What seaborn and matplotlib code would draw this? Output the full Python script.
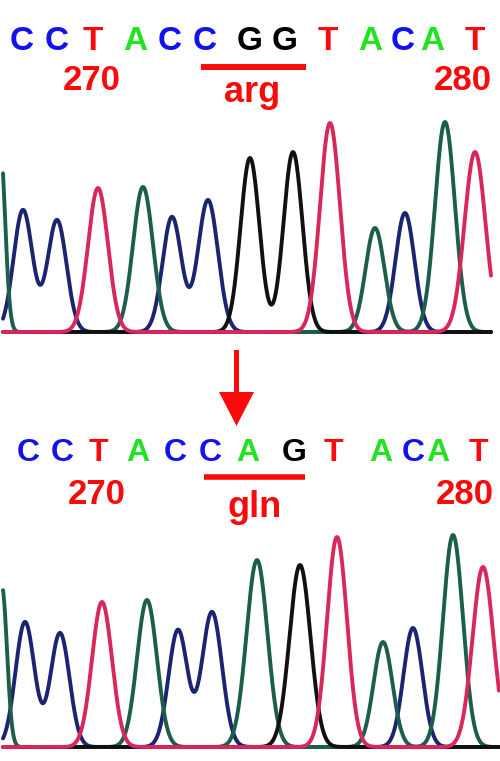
import numpy as np
import pandas as pd
import matplotlib
matplotlib.use("Agg")
import matplotlib.pyplot as plt
import seaborn as sns

# base calls printed above each trace
top_bases = list("CCTACCGGTACAT")
bottom_bases = list("CCTACCAGTACAT")
top_codon = "arg"
bottom_codon = "gln"
position_labels = ["270", "280"]

# chromatogram peaks (scan position, signal height, peak width)
top_peak_base = ["A", "C", "C", "T", "A", "C", "C", "G", "G", "T", "A", "C", "A", "T"]
top_peak_pos = [0, 23, 57, 98, 143, 172, 208, 250, 293, 330, 375, 405, 445, 475]
top_peak_height = [190, 122, 112, 144, 145, 115, 132, 174, 180, 209, 104, 119, 210, 180]
top_peak_sigma = [5, 9.5, 9.5, 10, 10, 9.5, 10, 9.5, 9.5, 10, 9.5, 9.5, 10, 10.5]

bottom_peak_base = ["A", "C", "C", "T", "A", "C", "C", "A", "G", "T", "A", "C", "A", "T"]
bottom_peak_pos = [2, 25, 60, 102, 147, 178, 212, 257, 300, 337, 383, 413, 453, 483]
bottom_peak_height = [160, 125, 114, 145, 147, 117, 135, 187, 182, 210, 105, 119, 212, 180]
bottom_peak_sigma = [5, 9.5, 9.5, 10, 10, 9.5, 10, 10.5, 10.5, 10, 9.5, 9.5, 10, 10.5]

trace_colors = {"C": "#1a2470", "A": "#1b5e4a", "G": "#111111", "T": "#d8285a"}
letter_colors = {"C": "#1212ee", "A": "#22e222", "G": "#000000", "T": "#fa0a0a"}
red = "#fa0a0a"

# layout (figure pixels)
top_letter_x = [22, 57, 93, 135, 170, 205, 250, 285, 328, 370, 403, 432, 475]
bottom_letter_x = [28, 62, 98, 138, 175, 210, 248, 294, 333, 381, 413, 438, 478]


def trace_frame(bases, pos, height, sigma, x_end):
    scan = np.linspace(3, x_end, 1200)
    rows = []
    for ch in ["C", "A", "G", "T"]:
        sig = np.zeros_like(scan)
        for b, p, h, s in zip(bases, pos, height, sigma):
            if b == ch:
                sig += h * np.exp(-0.5 * ((scan - p) / s) ** 2)
        rows.append(pd.DataFrame({"scan": scan, "signal": sig, "base": ch}))
    return pd.concat(rows, ignore_index=True)


sns.set_theme(style="white")
plt.rcParams["font.family"] = ["Liberation Sans", "DejaVu Sans"]

fig = plt.figure(figsize=(5, 7.61), dpi=100)
H = 761.0

top_df = trace_frame(top_peak_base, top_peak_pos, top_peak_height, top_peak_sigma, 491)
bot_df = trace_frame(bottom_peak_base, bottom_peak_pos, bottom_peak_height, bottom_peak_sigma, 499)

for df, base_px in [(top_df, 332), (bot_df, 747)]:
    ax = fig.add_axes([0, (H - base_px - 4) / H, 1, 220 / H])
    sns.lineplot(data=df, x="scan", y="signal", hue="base", hue_order=["C", "A", "G", "T"],
                 palette=trace_colors, estimator=None, sort=False, legend=False,
                 linewidth=2.8, ax=ax)
    ax.set_xlim(0, 500)
    ax.set_ylim(-4, 216)
    ax.axis("off")

# overlay in pixel coordinates for the labels
ov = fig.add_axes([0, 0, 1, 1])
ov.set_xlim(0, 500)
ov.set_ylim(H, 0)
ov.axis("off")
ov.patch.set_alpha(0)

for bases, xs, y, fs in [(top_bases, top_letter_x, 41, 24), (bottom_bases, bottom_letter_x, 453, 23)]:
    for b, x in zip(bases, xs):
        ov.text(x, y, b, color=letter_colors[b], fontsize=fs, fontweight="bold",
                ha="center", va="center")

for y, xs in [(81, (92, 463)), (494, (97, 465))]:
    for lab, x in zip(position_labels, xs):
        ov.text(x, y, lab, color=red, fontsize=25, fontweight="bold", ha="center", va="center")

ov.plot([201, 306], [67, 67], color=red, lw=4.3, solid_capstyle="butt")
ov.text(252, 102, top_codon, color=red, fontsize=26, fontweight="bold", ha="center", va="baseline")
ov.plot([204, 305], [476.5, 476.5], color=red, lw=4, solid_capstyle="butt")
ov.text(255, 517, bottom_codon, color=red, fontsize=26, fontweight="bold", ha="center", va="baseline")

ov.arrow(236.5, 350, 0, 76, width=5, head_width=35, head_length=34,
         length_includes_head=True, color=red, lw=0)

fig.savefig("out.png", dpi=100)
